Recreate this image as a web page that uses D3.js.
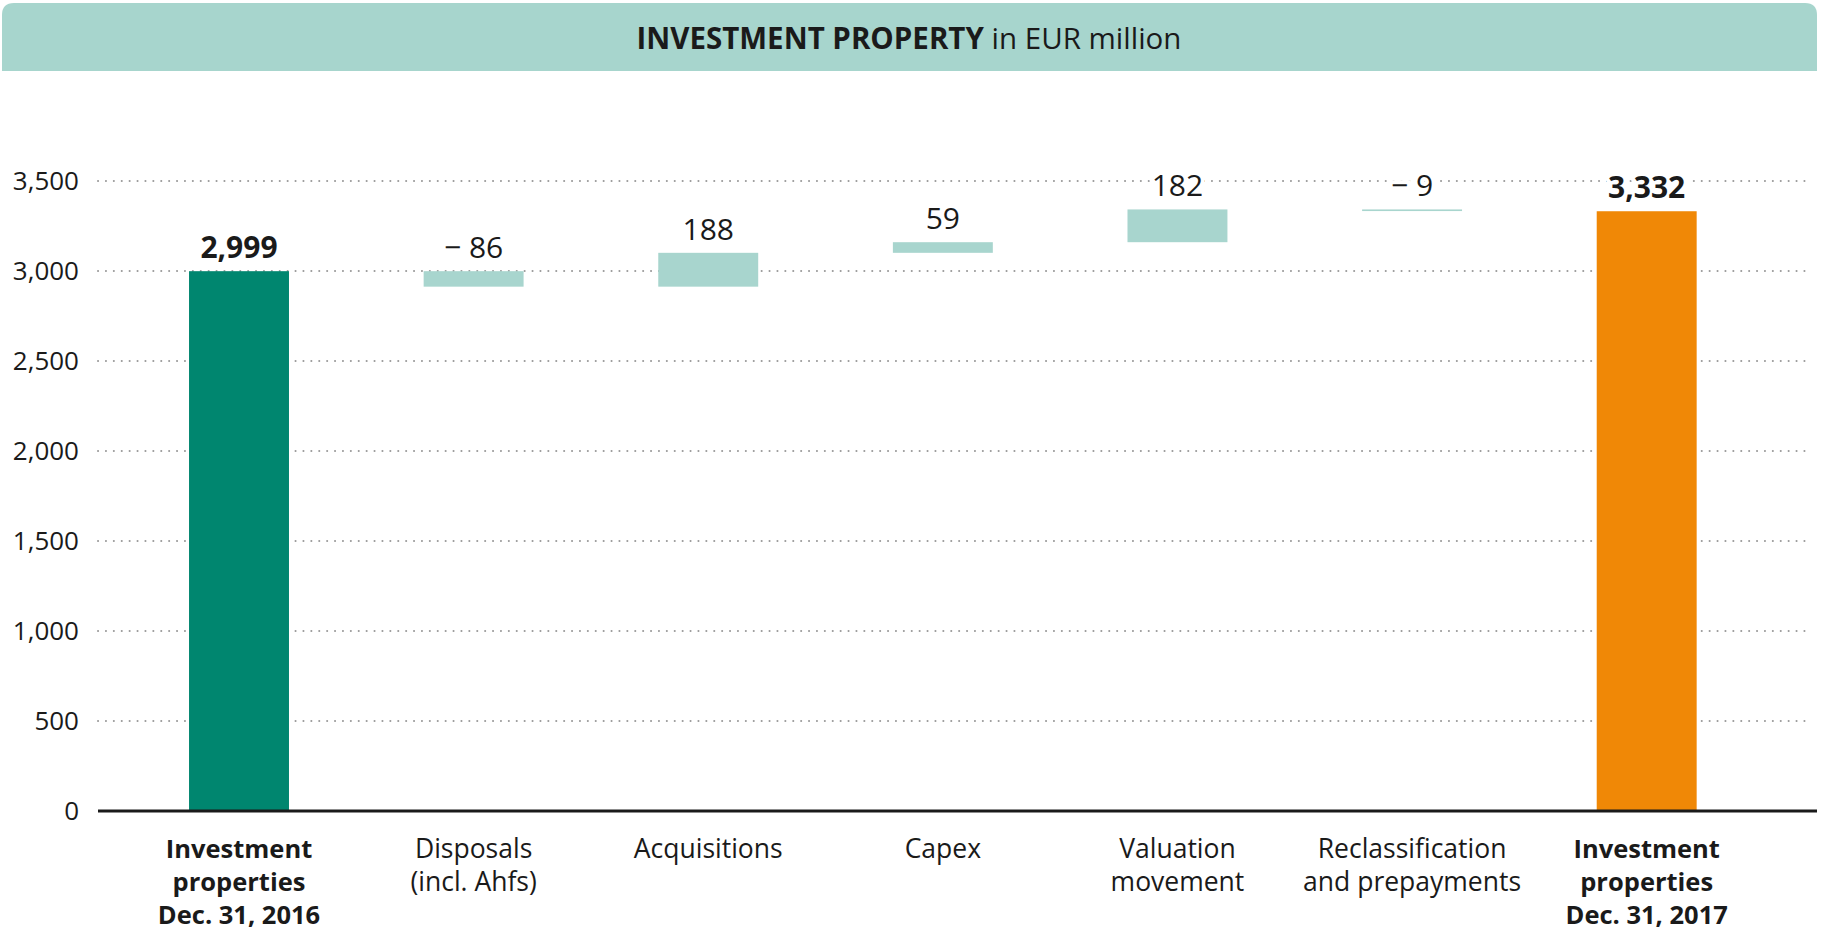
<!DOCTYPE html>
<html>
<head>
<meta charset="utf-8">
<script src="https://cdn.jsdelivr.net/npm/d3@7"></script>
<style>
  body { margin: 0; background: #fff; }
  text { font-family: "Open Sans", sans-serif; fill: #1a1a1a; }
</style>
</head>
<body>
<script>
const width = 1825
const height = 932

const categories = [
  ['Investment', 'properties', 'Dec. 31, 2016'],
  ['Disposals', '(incl. Ahfs)'],
  ['Acquisitions'],
  ['Capex'],
  ['Valuation', 'movement'],
  ['Reclassification', 'and prepayments'],
  ['Investment', 'properties', 'Dec. 31, 2017']
]
const values = [2999, -86, 188, 59, 182, -9, 3332]
const kinds = ['start', 'delta', 'delta', 'delta', 'delta', 'delta', 'end']
const yTicks = [0, 500, 1000, 1500, 2000, 2500, 3000, 3500]

const colors = { start: '#00866f', delta: '#a8d5ce', end: '#f08806' }

// running totals for the floating bars
let running = 0
const bars = values.map((v, i) => {
  let lo, hi
  if (kinds[i] === 'delta') {
    lo = Math.min(running, running + v)
    hi = Math.max(running, running + v)
    running += v
  } else {
    lo = 0
    hi = v
    running = v
  }
  return { i, v, lo, hi, kind: kinds[i], lines: categories[i] }
})

const svg = d3.select('body').append('svg')
  .attr('width', width)
  .attr('height', height)

// header band, rounded on top only
const hx0 = 2, hx1 = 1817, hy0 = 3, hy1 = 71, r = 12
svg.append('path')
  .attr('d', `M${hx0},${hy1} V${hy0 + r} Q${hx0},${hy0} ${hx0 + r},${hy0} H${hx1 - r} Q${hx1},${hy0} ${hx1},${hy0 + r} V${hy1} Z`)
  .attr('fill', '#a7d5cd')

const title = svg.append('text')
  .attr('x', 909)
  .attr('y', 49)
  .attr('text-anchor', 'middle')
  .style('font-size', '29.5px')
title.append('tspan').attr('font-weight', 700).text('INVESTMENT PROPERTY')
title.append('tspan').text(' in EUR million')

const x = d3.scaleBand()
  .domain(d3.range(categories.length))
  .range([121.7, 1764])
  .paddingInner(0.574)
  .paddingOuter(0.287)

const y = d3.scaleLinear()
  .domain([0, 3500])
  .range([811, 181])

// dotted grid
svg.append('g')
  .selectAll('line')
  .data(yTicks.filter(t => t > 0))
  .join('line')
  .attr('x1', 98)
  .attr('x2', 1812)
  .attr('y1', d => y(d))
  .attr('y2', d => y(d))
  .attr('stroke', '#9a9a9a')
  .attr('stroke-width', 2)
  .attr('stroke-linecap', 'round')
  .attr('stroke-dasharray', '0.1,7.8')

// y tick labels
svg.append('g')
  .selectAll('text')
  .data(yTicks)
  .join('text')
  .attr('x', 79)
  .attr('y', d => y(d))
  .attr('dy', '0.35em')
  .attr('text-anchor', 'end')
  .style('font-size', '26px')
  .text(d3.format(','))

// bars
svg.append('g')
  .selectAll('rect')
  .data(bars)
  .join('rect')
  .attr('x', d => x(d.i))
  .attr('width', x.bandwidth())
  .attr('y', d => y(d.hi))
  .attr('height', d => Math.max(1.6, y(d.lo) - y(d.hi)))
  .attr('fill', d => colors[d.kind])

// baseline
svg.append('line')
  .attr('x1', 98)
  .attr('x2', 1817)
  .attr('y1', y(0))
  .attr('y2', y(0))
  .attr('stroke', '#1a1a1a')
  .attr('stroke-width', 3)

// value labels
const fmt = d3.format(',')
svg.append('g')
  .selectAll('text')
  .data(bars)
  .join('text')
  .attr('x', d => x(d.i) + x.bandwidth() / 2)
  .attr('y', d => y(d.hi) - 13)
  .attr('text-anchor', 'middle')
  .attr('font-weight', d => d.kind === 'delta' ? 400 : 700)
  .style('font-size', '30px')
  .style('stroke', '#fff')
  .style('stroke-width', 8)
  .style('paint-order', 'stroke')
  .text(d => d.v < 0 ? '\u2212 ' + fmt(-d.v) : fmt(d.v))

// category labels
const cat = svg.append('g')
  .selectAll('text')
  .data(bars)
  .join('text')
  .attr('x', d => x(d.i) + x.bandwidth() / 2)
  .attr('y', 858)
  .attr('text-anchor', 'middle')
  .attr('font-weight', d => d.kind === 'delta' ? 400 : 700)
  .style('font-size', d => d.kind === 'delta' ? '26.5px' : '25.5px')

cat.selectAll('tspan')
  .data(d => d.lines.map(t => ({ t, cx: x(d.i) + x.bandwidth() / 2 })))
  .join('tspan')
  .attr('x', d => d.cx)
  .attr('dy', (d, i) => i === 0 ? 0 : 33)
  .text(d => d.t)
</script>
</body>
</html>
